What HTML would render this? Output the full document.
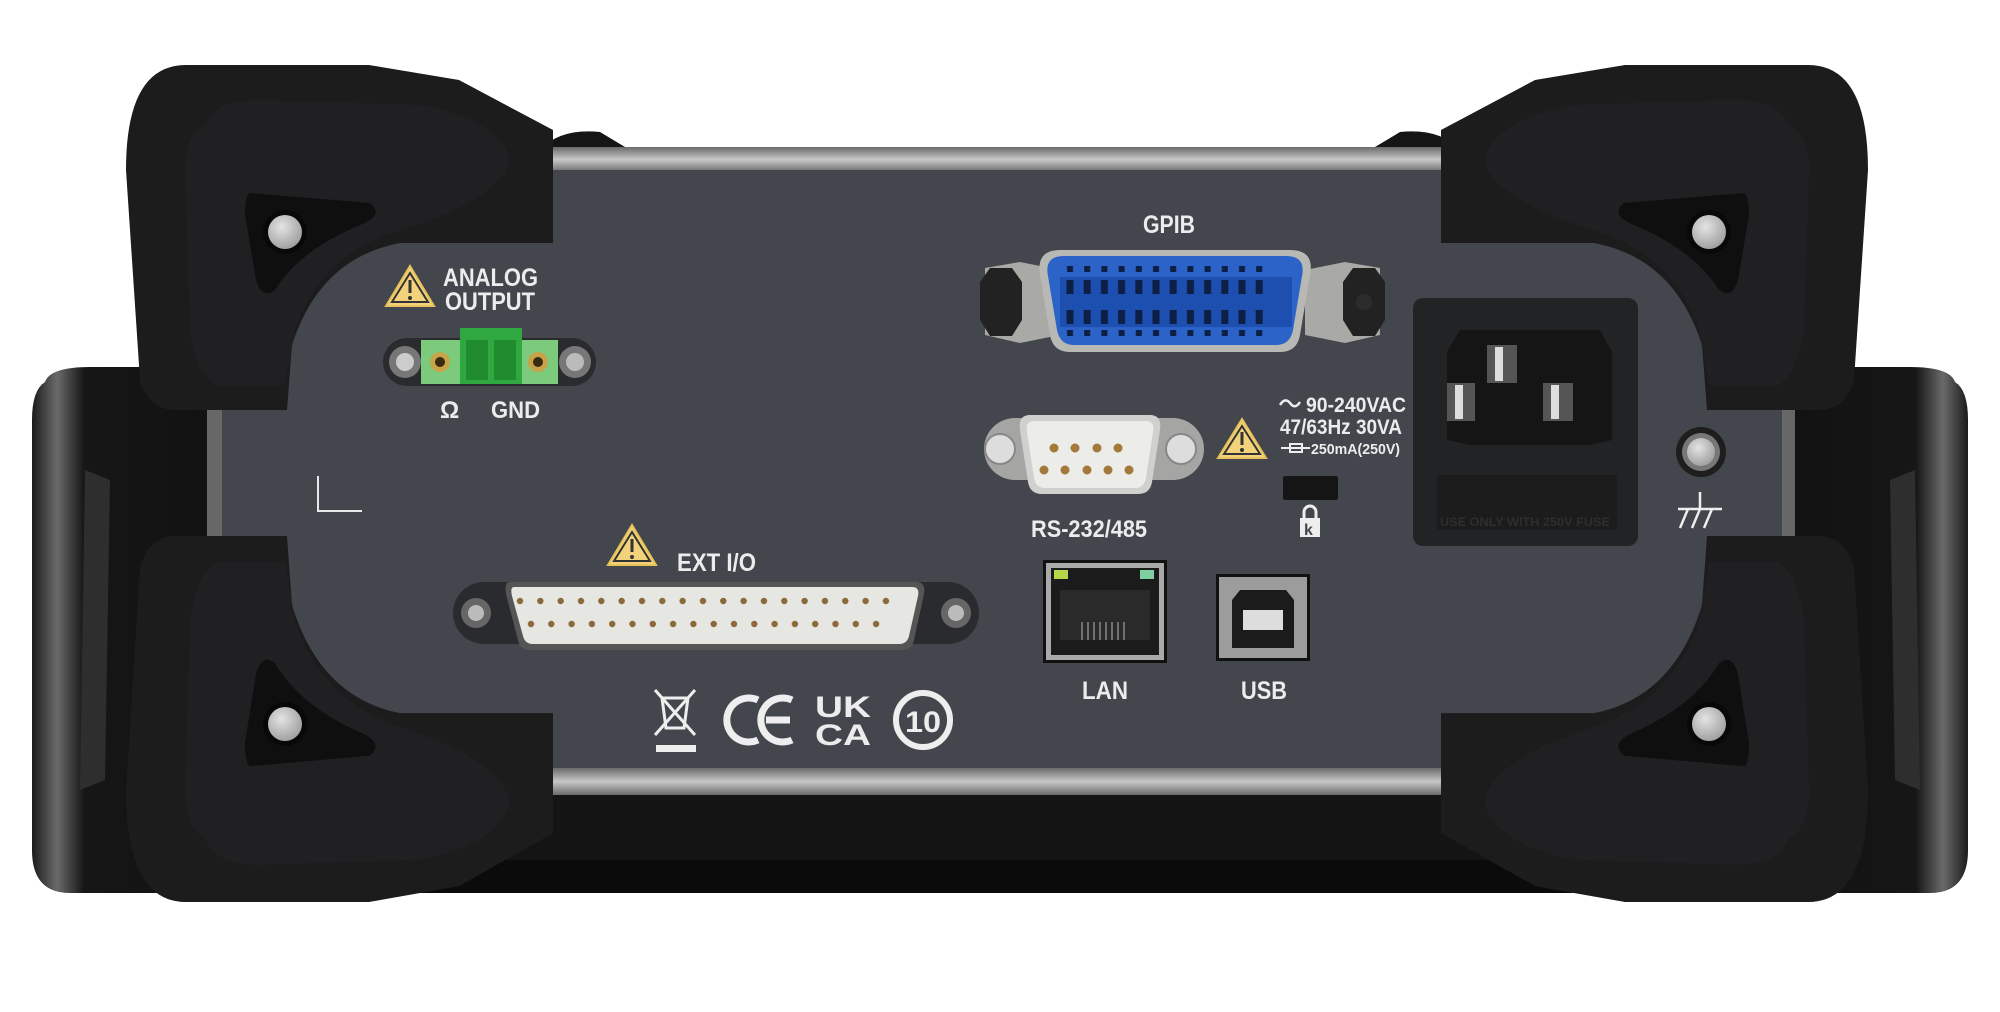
<!DOCTYPE html>
<html><head><meta charset="utf-8"><style>
html,body{margin:0;padding:0;background:#fff;}
svg{display:block}
text{font-family:"Liberation Sans Narrow","Liberation Sans",sans-serif;font-weight:bold;fill:#ececec}
</style></head><body>
<svg width="2000" height="1012" viewBox="0 0 2000 1012" xmlns="http://www.w3.org/2000/svg">
<defs>
<linearGradient id="silv" x1="0" y1="0" x2="0" y2="1"><stop offset="0" stop-color="#6a6a6a"/><stop offset=".5" stop-color="#c8c8c8"/><stop offset="1" stop-color="#6a6a6a"/></linearGradient>
<linearGradient id="silvh" x1="0" y1="0" x2="1" y2="0"><stop offset="0" stop-color="#666"/><stop offset=".5" stop-color="#c8c8c8"/><stop offset="1" stop-color="#666"/></linearGradient>
<linearGradient id="side" x1="0" y1="0" x2="1" y2="0"><stop offset="0" stop-color="#1a1a1a"/><stop offset=".12" stop-color="#6a6a6a"/><stop offset=".25" stop-color="#161616"/><stop offset="1" stop-color="#111"/></linearGradient>
<linearGradient id="sider" x1="1" y1="0" x2="0" y2="0"><stop offset="0" stop-color="#1a1a1a"/><stop offset=".12" stop-color="#6a6a6a"/><stop offset=".25" stop-color="#161616"/><stop offset="1" stop-color="#111"/></linearGradient>
<radialGradient id="scr" cx=".4" cy=".35" r=".7"><stop offset="0" stop-color="#e4e4e4"/><stop offset="1" stop-color="#9c9c9c"/></radialGradient>
<pattern id="p37a" x="509.84" y="0" width="20.33" height="1012" patternUnits="userSpaceOnUse"><circle cx="10.16" cy="601" r="3.2" fill="#8a6a3a"/></pattern>
<pattern id="p37b" x="520.85" y="0" width="20.3" height="1012" patternUnits="userSpaceOnUse"><circle cx="10.15" cy="624" r="3.2" fill="#8a6a3a"/></pattern>
<pattern id="gp" x="1061.4" y="0" width="17.2" height="1012" patternUnits="userSpaceOnUse"><rect x="5.6" y="266" width="6" height="6" fill="#0d1f45"/><rect x="5.1" y="280" width="7" height="14" fill="#0d1f45"/><rect x="5.1" y="310" width="7" height="14" fill="#0d1f45"/><rect x="5.6" y="330" width="6" height="6" fill="#0d1f45"/></pattern>
<g id="bump">
<path d="M186,65 L369,65 L459,80 L553,130 L553,243 L400,243 Q320,258 292,345 L287,410 L176,410 Q148,410 140,380 L126,170 Q126,65 186,65 Z" fill="#1c1c1d"/>
<path d="M205,125 Q215,100 260,100 L420,105 Q500,120 510,160 Q500,200 400,230 Q320,255 295,330 L285,385 L215,385 Q195,370 190,330 L185,170 Q185,135 205,125 Z" fill="#202022"/>
<path d="M250,193 L370,203 Q385,215 360,225 Q300,250 275,290 Q262,300 256,280 L245,215 Q245,195 250,193 Z" fill="#0f0f10"/>
</g>
</defs>

<!-- side handles -->
<path d="M45,382 Q50,367 90,367 L240,367 L240,893 L70,893 Q32,893 32,850 L32,420 Q32,390 45,382 Z" fill="url(#side)"/>
<path d="M85,470 L110,480 L105,780 L80,790 Z" fill="#2e2e2e"/>
<path d="M1955,382 Q1950,367 1910,367 L1760,367 L1760,893 L1930,893 Q1968,893 1968,850 L1968,420 Q1968,390 1955,382 Z" fill="url(#sider)"/>
<path d="M1915,470 L1890,480 L1895,780 L1920,790 Z" fill="#2e2e2e"/>
<!-- bottom bar -->
<path d="M200,790 L1800,790 L1800,893 L200,893 Z" fill="#141414"/>
<rect x="240" y="860" width="1520" height="33" fill="#0b0b0b"/>
<!-- top chassis bumps -->
<path d="M540,150 Q560,128 600,132 L630,150 Z" fill="#151515"/>
<path d="M1460,150 Q1440,128 1400,132 L1370,150 Z" fill="#151515"/>

<!-- panel frame -->
<rect x="207" y="147" width="1588" height="648" fill="url(#silvh)"/>
<rect x="207" y="147" width="1588" height="25" fill="url(#silv)"/>
<rect x="207" y="768" width="1588" height="27" fill="url(#silv)"/>
<rect x="222" y="170" width="1560" height="598" fill="#43464c"/>

<!-- corner mark -->
<path d="M318,476 L318,511 L362,511" stroke="#e8e8e8" stroke-width="2" fill="none"/>

<!-- analog output -->
<path d="M410,266 L434,306 L386,306 Z" fill="#f2d27a" stroke="#e8c35a" stroke-width="2"/>
<path d="M410,273 L428,302 L392,302 Z" fill="none" stroke="#333" stroke-width="2"/>
<rect x="408.5" y="280" width="3" height="13" fill="#333"/><circle cx="410" cy="298" r="2" fill="#333"/>
<text x="443" y="286" font-size="25" textLength="95" lengthAdjust="spacingAndGlyphs">ANALOG</text>
<text x="445" y="310" font-size="25" textLength="90" lengthAdjust="spacingAndGlyphs">OUTPUT</text>
<rect x="383" y="338" width="213" height="48" rx="24" fill="#2a2b2e"/>
<circle cx="405" cy="362" r="16" fill="#777"/><circle cx="405" cy="362" r="9" fill="#ccc"/>
<circle cx="575" cy="362" r="16" fill="#777"/><circle cx="575" cy="362" r="9" fill="#bbb"/>
<rect x="421" y="340" width="137" height="44" fill="#7ccb7c"/>
<rect x="460" y="328" width="62" height="56" fill="#2fa83f"/>
<rect x="466" y="340" width="22" height="40" fill="#1f8a2e"/><rect x="494" y="340" width="22" height="40" fill="#1f8a2e"/>
<circle cx="440" cy="362" r="10" fill="#c7a34a"/><circle cx="440" cy="362" r="5" fill="#3a2a10"/>
<circle cx="538" cy="362" r="10" fill="#c7a34a"/><circle cx="538" cy="362" r="5" fill="#3a2a10"/>
<text x="440" y="418" font-size="24">Ω</text>
<text x="491" y="418" font-size="24" textLength="49" lengthAdjust="spacingAndGlyphs">GND</text>

<!-- EXT I/O -->
<path d="M632,525 L656,565 L608,565 Z" fill="#f2d27a" stroke="#e8c35a" stroke-width="2"/>
<path d="M632,532 L650,561 L614,561 Z" fill="none" stroke="#333" stroke-width="2"/>
<rect x="630.5" y="539" width="3" height="13" fill="#333"/><circle cx="632" cy="557" r="2" fill="#333"/>
<text x="677" y="571" font-size="25" textLength="79" lengthAdjust="spacingAndGlyphs">EXT I/O</text>
<rect x="453" y="582" width="526" height="62" rx="31" fill="#2a2b2e"/>
<circle cx="476" cy="613" r="15" fill="#666"/><circle cx="476" cy="613" r="8" fill="#bbb"/>
<circle cx="956" cy="613" r="15" fill="#666"/><circle cx="956" cy="613" r="8" fill="#bbb"/>
<path d="M510,582 L916,582 Q926,582 924,594 L914,640 Q912,650 902,650 L530,650 Q520,650 518,640 L506,594 Q504,582 510,582 Z" fill="#555"/>
<path d="M514,587 L912,587 Q920,587 918,596 L909,636 Q907,644 899,644 L533,644 Q525,644 523,636 L512,596 Q510,587 514,587 Z" fill="#e6e6e2"/>
<rect x="509" y="594" width="390" height="14" fill="url(#p37a)"/>
<rect x="520" y="617" width="370" height="14" fill="url(#p37b)"/>

<!-- compliance symbols -->
<g stroke="#eee" stroke-width="3" fill="none">
<path d="M655,690 L695,735 M695,690 L655,735"/>
<path d="M662,698 L688,698 L684,728 L666,728 Z"/>
</g>
<rect x="656" y="745" width="40" height="7" fill="#eee"/>
<g stroke="#eee" stroke-width="7" fill="none">
<path d="M758,700 A22,22 0 1 0 758,740"/>
<path d="M792,700 A22,22 0 1 0 792,740 M766,720 L790,720"/>
</g>
<text x="815" y="717" font-size="30" font-family="Liberation Sans" textLength="56" lengthAdjust="spacingAndGlyphs">UK</text>
<text x="815" y="745" font-size="30" font-family="Liberation Sans" textLength="56" lengthAdjust="spacingAndGlyphs">CA</text>
<circle cx="923" cy="720" r="27" fill="none" stroke="#eee" stroke-width="6"/>
<text x="905" y="732" font-size="30" textLength="36" lengthAdjust="spacingAndGlyphs">10</text>

<!-- GPIB -->
<text x="1143" y="233" font-size="25" textLength="52" lengthAdjust="spacingAndGlyphs">GPIB</text>
<path d="M985,268 L1020,262 L1060,270 L1060,335 L1020,343 L985,335 Z" fill="#a9a9a6"/>
<path d="M1380,268 L1345,262 L1305,270 L1305,335 L1345,343 L1380,335 Z" fill="#a9a9a6"/>
<polygon points="980,282 990,268 1012,268 1022,282 1022,320 1012,336 990,336 980,320" fill="#222"/>
<polygon points="1343,282 1353,268 1375,268 1385,282 1385,320 1375,336 1353,336 1343,320" fill="#222"/>
<circle cx="1364" cy="302" r="8" fill="#2c2c2c"/>
<path d="M1060,250 L1290,250 Q1315,250 1310,275 L1300,335 Q1297,352 1280,352 L1070,352 Q1053,352 1050,335 L1040,275 Q1036,250 1060,250 Z" fill="#b8b8b5"/>
<path d="M1064,256 L1286,256 Q1306,256 1302,276 L1293,330 Q1290,345 1276,345 L1074,345 Q1060,345 1057,330 L1048,276 Q1044,256 1064,256 Z" fill="#2b63c9"/>
<rect x="1060" y="277" width="232" height="50" fill="#1c4fb0"/>
<rect x="1061.4" y="260" width="206.4" height="80" fill="url(#gp)"/>

<!-- DB9 -->
<rect x="984" y="418" width="220" height="62" rx="31" fill="#a5a5a3"/>
<circle cx="1000" cy="449" r="15" fill="#ddd" stroke="#888" stroke-width="2"/>
<circle cx="1181" cy="449" r="15" fill="#ddd" stroke="#888" stroke-width="2"/>
<path d="M1030,415 L1150,415 Q1162,415 1160,430 L1152,482 Q1150,494 1138,494 L1042,494 Q1030,494 1028,482 L1020,430 Q1018,415 1030,415 Z" fill="#d0d0ce"/>
<path d="M1034,421 L1146,421 Q1155,421 1153,432 L1146,478 Q1144,488 1135,488 L1045,488 Q1036,488 1034,478 L1027,432 Q1025,421 1034,421 Z" fill="#ecece9"/>
<g fill="#a47a3c"><circle cx="1054" cy="448" r="4.5"/><circle cx="1075" cy="448" r="4.5"/><circle cx="1097" cy="448" r="4.5"/><circle cx="1118" cy="448" r="4.5"/>
<circle cx="1044" cy="470" r="4.5"/><circle cx="1065" cy="470" r="4.5"/><circle cx="1087" cy="470" r="4.5"/><circle cx="1108" cy="470" r="4.5"/><circle cx="1129" cy="470" r="4.5"/></g>
<text x="1031" y="537" font-size="24" textLength="116" lengthAdjust="spacingAndGlyphs">RS-232/485</text>

<!-- warning + power text -->
<path d="M1242,419 L1266,458 L1218,458 Z" fill="#f2d27a" stroke="#e8c35a" stroke-width="2"/>
<path d="M1242,426 L1260,454 L1224,454 Z" fill="none" stroke="#333" stroke-width="2"/>
<rect x="1240.5" y="432" width="3" height="13" fill="#333"/><circle cx="1242" cy="450" r="2" fill="#333"/>
<path d="M1280,405 Q1285,397 1290,403 Q1295,410 1300,402" stroke="#eee" stroke-width="2.5" fill="none"/>
<text x="1306" y="412" font-size="21" textLength="100" lengthAdjust="spacingAndGlyphs">90-240VAC</text>
<text x="1280" y="434" font-size="21" textLength="122" lengthAdjust="spacingAndGlyphs">47/63Hz 30VA</text>
<path d="M1281,448 L1310,448 M1290,444 h12 v8 h-12 z" stroke="#eee" stroke-width="2" fill="none"/>
<text x="1311" y="454" font-size="15" textLength="89" lengthAdjust="spacingAndGlyphs">250mA(250V)</text>
<rect x="1283" y="476" width="55" height="24" rx="2" fill="#151515"/>
<path d="M1304,518 v-6 a6,6 0 0 1 12,0 v6" stroke="#eee" stroke-width="3" fill="none"/>
<rect x="1300" y="518" width="20" height="19" fill="#eee"/>
<text x="1304" y="535" font-size="16" style="fill:#43464c">k</text>

<!-- AC inlet -->
<rect x="1413" y="298" width="225" height="248" rx="10" fill="#222325"/>
<path d="M1460,330 L1600,330 L1612,352 L1612,440 L1590,445 L1470,445 L1447,440 L1447,352 Z" fill="#151516"/>
<rect x="1487" y="345" width="30" height="38" fill="#555"/><rect x="1495" y="347" width="8" height="34" fill="#ddd"/>
<rect x="1447" y="383" width="28" height="38" fill="#555"/><rect x="1455" y="385" width="8" height="34" fill="#ddd"/>
<rect x="1543" y="383" width="30" height="38" fill="#555"/><rect x="1551" y="385" width="8" height="34" fill="#ddd"/>
<rect x="1437" y="475" width="180" height="55" fill="#1c1c1d"/>
<text x="1440" y="526" font-size="12" style="fill:#2e2e30" textLength="170" lengthAdjust="spacingAndGlyphs">USE ONLY WITH 250V FUSE</text>

<!-- ground -->
<circle cx="1701" cy="452" r="25" fill="#1e1e1e"/><circle cx="1701" cy="452" r="19" fill="#777"/><circle cx="1701" cy="452" r="14" fill="url(#scr)"/>
<path d="M1700,492 L1700,509 M1678,509 L1722,509 M1688,509 L1680,528 M1700,509 L1692,528 M1712,509 L1704,528" stroke="#eee" stroke-width="2.5" fill="none"/>

<!-- LAN -->
<rect x="1043" y="560" width="124" height="103" fill="#111"/>
<rect x="1046" y="563" width="118" height="97" fill="#aaa"/>
<rect x="1051" y="568" width="108" height="87" fill="#1b1b1b"/>
<rect x="1054" y="570" width="14" height="9" fill="#b5d84a"/><rect x="1140" y="570" width="14" height="9" fill="#7fd0a0"/>
<path d="M1060,590 L1150,590 L1150,640 L1060,640 Z" fill="#2a2a2a"/>
<g stroke="#888" stroke-width="1.5"><path d="M1082,622 v18 M1088,622 v18 M1094,622 v18 M1100,622 v18 M1106,622 v18 M1112,622 v18 M1118,622 v18 M1124,622 v18"/></g>
<text x="1082" y="699" font-size="25" textLength="46" lengthAdjust="spacingAndGlyphs">LAN</text>

<!-- USB -->
<rect x="1216" y="574" width="94" height="87" fill="#111"/>
<rect x="1219" y="577" width="88" height="81" fill="#9c9c9c"/>
<path d="M1240,590 L1286,590 L1294,600 L1294,648 L1232,648 L1232,600 Z" fill="#1b1b1b"/>
<rect x="1243" y="610" width="40" height="20" fill="#ddd"/>
<text x="1241" y="699" font-size="25" textLength="46" lengthAdjust="spacingAndGlyphs">USB</text>

<!-- bumpers -->
<use href="#bump"/>
<use href="#bump" transform="matrix(-1,0,0,1,1994,0)"/>
<use href="#bump" transform="matrix(1,0,0,-1.061,0,971)"/>
<use href="#bump" transform="matrix(-1,0,0,-1.061,1994,971)"/>
<g>
<circle cx="285" cy="232" r="22" fill="#080808"/><circle cx="285" cy="232" r="17" fill="url(#scr)"/>
<circle cx="1709" cy="232" r="22" fill="#080808"/><circle cx="1709" cy="232" r="17" fill="url(#scr)"/>
<circle cx="285" cy="724" r="22" fill="#080808"/><circle cx="285" cy="724" r="17" fill="url(#scr)"/>
<circle cx="1709" cy="724" r="22" fill="#080808"/><circle cx="1709" cy="724" r="17" fill="url(#scr)"/>
</g>
</svg>
</body></html>
